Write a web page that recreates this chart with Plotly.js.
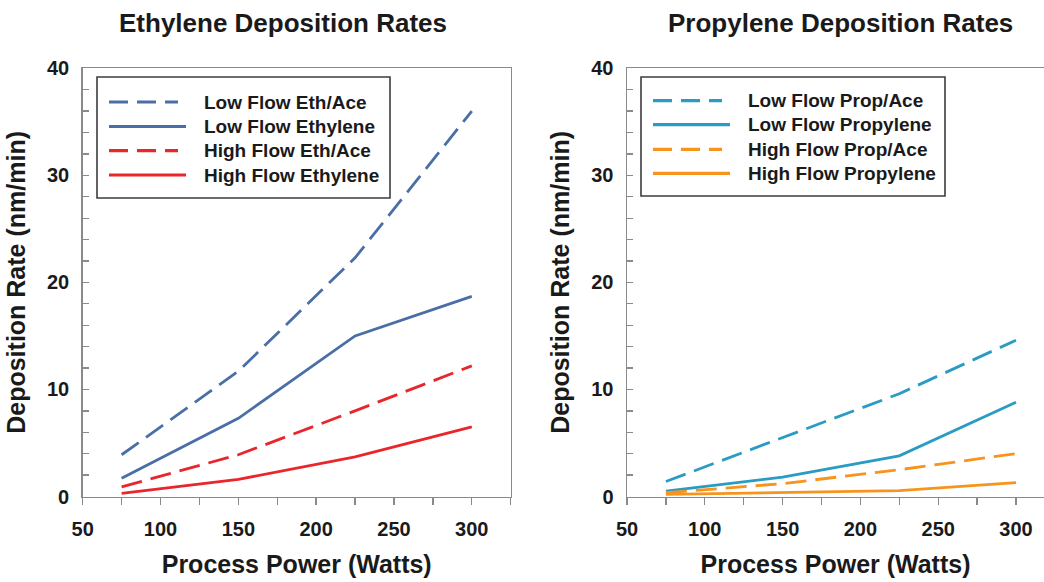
<!DOCTYPE html>
<html>
<head>
<meta charset="utf-8">
<script src="https://cdn.plot.ly/plotly-3.0.1.min.js"></script>
<style>html,body{margin:0;padding:0;background:#fff;}#chart{width:1044px;height:582px;}</style>
</head>
<body>
<div id="chart"></div>
<script>
// ---- data ----
const power = [75, 150, 225, 300];
const lowFlowEthAce = [3.9, 11.7, 22.3, 36.0];
const lowFlowEthylene = [1.7, 7.3, 15.0, 18.7];
const highFlowEthAce = [0.9, 3.9, 8.0, 12.2];
const highFlowEthylene = [0.3, 1.6, 3.7, 6.5];
const lowFlowPropAce = [1.4, 5.5, 9.6, 14.6];
const lowFlowPropylene = [0.5, 1.8, 3.8, 8.8];
const highFlowPropAce = [0.35, 1.2, 2.5, 4.0];
const highFlowPropylene = [0.2, 0.35, 0.55, 1.3];

const ethNames = ["Low Flow Eth/Ace", "Low Flow Ethylene", "High Flow Eth/Ace", "High Flow Ethylene"];
const propNames = ["Low Flow Prop/Ace", "Low Flow Propylene", "High Flow Prop/Ace", "High Flow Propylene"];
const subplotTitles = ["Ethylene Deposition Rates", "Propylene Deposition Rates"];
const xTitle = "Process Power (Watts)";
const yTitle = "Deposition Rate (nm/min)";

// ---- styles ----
const W = 1044, H = 582;
const FONT = '"Liberation Sans", Arial, sans-serif';
const ethBlue = "#4a6ea6", ethRed = "#e8262b", propBlue = "#2a9cc4", propOrange = "#f7941e";
const DASH = "21px,9px";
const LW = 2.8;
const axisGray = "#8a8a8a";
const px = v => v / W;
const py = v => 1 - v / H;

const ethSeries = [
  {y: lowFlowEthAce, color: ethBlue, dash: DASH},
  {y: lowFlowEthylene, color: ethBlue, dash: "solid"},
  {y: highFlowEthAce, color: ethRed, dash: DASH},
  {y: highFlowEthylene, color: ethRed, dash: "solid"}
];
const propSeries = [
  {y: lowFlowPropAce, color: propBlue, dash: DASH},
  {y: lowFlowPropylene, color: propBlue, dash: "solid"},
  {y: highFlowPropAce, color: propOrange, dash: DASH},
  {y: highFlowPropylene, color: propOrange, dash: "solid"}
];

const traces = [];
ethSeries.forEach((s, i) => traces.push({
  x: power, y: s.y, name: ethNames[i], type: "scatter", mode: "lines",
  line: {color: s.color, dash: s.dash, width: LW}, xaxis: "x", yaxis: "y", showlegend: false
}));
propSeries.forEach((s, i) => traces.push({
  x: power, y: s.y, name: propNames[i], type: "scatter", mode: "lines",
  line: {color: s.color, dash: s.dash, width: LW}, xaxis: "x2", yaxis: "y2", showlegend: false
}));

const tickFont = {family: FONT, size: 20, color: "#1a1a1a", weight: 700};
const titleFont = {family: FONT, size: 25, color: "#1a1a1a", weight: 700};

function xAxis(domain, range) {
  return {
    domain: domain, range: range, tick0: 50, dtick: 50,
    ticks: "outside", ticklen: 7, tickwidth: 1.3, tickcolor: axisGray,
    minor: {dtick: 25, tick0: 50, ticks: "outside", ticklen: 7, tickwidth: 1.3, tickcolor: axisGray},
    showline: true, linecolor: axisGray, linewidth: 1.5, mirror: true,
    showgrid: false, zeroline: false, tickfont: tickFont, ticklabelstandoff: 7,
    title: {text: xTitle, font: titleFont, standoff: 16}
  };
}
function yAxis(domain, mirror) {
  return {
    domain: domain, range: [0, 40], tick0: 0, dtick: 10,
    ticks: "inside", ticklen: 6, tickwidth: 1.3, tickcolor: axisGray,
    minor: {dtick: 2, ticks: "inside", ticklen: 6, tickwidth: 1.3, tickcolor: axisGray},
    showline: true, linecolor: axisGray, linewidth: 1.5, mirror: mirror,
    showgrid: false, zeroline: false, tickfont: tickFont, ticklabelstandoff: 8,
    title: {text: yTitle, font: titleFont, standoff: 14}
  };
}

const yDom = [py(496.5), py(68.3)];

// ---- custom legends (boxes, sample lines, labels) ----
const shapes = [];
const annotations = [];
function legend(box, rows, lineX0, lineX1, textX, series, names) {
  shapes.push({type: "rect", xref: "paper", yref: "paper",
    x0: px(box[0]), x1: px(box[2]), y0: py(box[1]), y1: py(box[3]),
    line: {color: "#3c3c3c", width: 1.6}, fillcolor: "rgba(255,255,255,0)"});
  series.forEach((s, i) => {
    shapes.push({type: "line", xref: "paper", yref: "paper",
      x0: px(lineX0), x1: px(s.dash === "solid" ? lineX1 : lineX1 - 8), y0: py(rows[i]), y1: py(rows[i]),
      line: {color: s.color, width: LW + 0.4, dash: s.dash === "solid" ? "solid" : "19px,9px"}});
    annotations.push({xref: "paper", yref: "paper", x: px(textX), y: py(rows[i]),
      xanchor: "left", yanchor: "middle", showarrow: false, text: names[i],
      font: {family: FONT, size: 19, color: "#1a1a1a", weight: 700}});
  });
}
legend([97, 77, 390, 198], [102, 126.5, 150.7, 175], 109, 186, 202, ethSeries, ethNames);
legend([641, 77, 945, 196], [100.7, 124.7, 149.3, 173.3], 653, 730, 746, propSeries, propNames);

annotations.push({xref: "paper", yref: "paper", x: px(283), y: py(23), xanchor: "center", yanchor: "middle",
  showarrow: false, text: subplotTitles[0], font: {family: FONT, size: 26, color: "#1a1a1a", weight: 700}});
annotations.push({xref: "paper", yref: "paper", x: px(840), y: py(23), xanchor: "center", yanchor: "middle",
  showarrow: false, text: subplotTitles[1], font: {family: FONT, size: 26, color: "#1a1a1a", weight: 700}});

const layout = {
  width: W, height: H,
  margin: {l: 0, r: 0, t: 0, b: 0},
  paper_bgcolor: "#ffffff", plot_bgcolor: "#ffffff",
  showlegend: false,
  xaxis: xAxis([px(82.7), px(510.7)], [50, 325]),
  yaxis: yAxis(yDom, true),
  xaxis2: xAxis([px(627), 1], [50, 318]),
  yaxis2: yAxis(yDom, false),
  shapes: shapes,
  annotations: annotations
};
layout.yaxis.anchor = "x";
layout.xaxis.anchor = "y";
layout.xaxis2.anchor = "y2";
layout.yaxis2.anchor = "x2";

Plotly.newPlot("chart", traces, layout, {displayModeBar: false, staticPlot: true});
</script>
</body>
</html>
